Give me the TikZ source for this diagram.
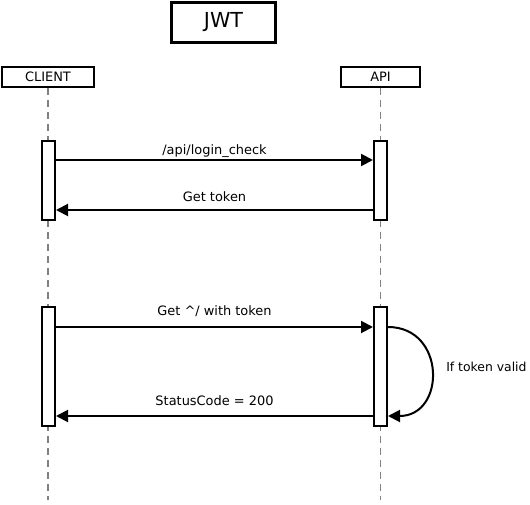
\documentclass[tikz,border=0pt]{standalone}
\usepackage{fontspec}
\setmainfont{DejaVu Sans}
\usetikzlibrary{positioning}
\usetikzlibrary{calc,arrows.meta}
\definecolor{seq-line}{HTML}{808080}

\begin{document}
\begin{tikzpicture}[
    x=0.75pt, y=-0.75pt, % pixel grid of the original drawing
    font=\fontsize{9.7}{11}\selectfont,
    >={Triangle[length=9pt, width=9pt]}
  ]

  % Styles for the sequence chart
  \tikzset{
    actor/.style={draw, line width=1.8pt, fill=white, inner sep=0pt, minimum height=15pt, text=black},
    activation/.style={draw, line width=1.5pt, fill=white, minimum width=9.75pt, inner sep=0pt},
    lifeline/.style={seq-line, line width=1.1pt, dash pattern=on 5pt off 4pt},
    msg/.style={->, line width=1.5pt}
  }

  \useasboundingbox (0,0) rectangle (530,505);

  % Title and actors
  \node (title) [actor, minimum width=78pt, minimum height=30pt, font=\fontsize{15.5}{17}\selectfont] at (223.5,22.5) {JWT};
  \node (client) [actor, minimum width=69pt] at (48,77) {CLIENT};
  \node (api)    [actor, minimum width=59pt] at (380.5,77) {API};

  % Lifelines
  \coordinate (clientEnd) at (48,500);
  \coordinate (apiEnd) at (380.5,500);
  \draw[lifeline] (client.south) -- (clientEnd);
  \draw[lifeline] (api.south) -- (apiEnd);

  % Activation bars
  \node (clientAct1) [activation, minimum height=59pt] at (48.5,180.5) {};
  \node (apiAct1)    [activation, minimum height=59pt] at (380.5,180.5) {};
  \node (clientAct2) [activation, minimum height=89pt] at (48.5,366.5) {};
  \node (apiAct2)    [activation, minimum height=89pt] at (380.5,366.5) {};

  % Message heights
  \coordinate (login) at (0,160);
  \coordinate (token) at (0,210);
  \coordinate (getReq) at (0,327);
  \coordinate (status) at (0,416);

  % Messages
  \draw[msg] (clientAct1.east |- login) -- node[above=-2pt] {/api/login\_check} (apiAct1.west |- login);
  \draw[msg] (apiAct1.west |- token) -- node[above=2pt] {Get token} (clientAct1.east |- token);
  \draw[msg] (clientAct2.east |- getReq) -- node[above=3.5pt] {Get \textasciicircum/ with token} (apiAct2.west |- getReq);
  \draw[msg] (apiAct2.west |- status) -- node[above=3.5pt] {StatusCode = 200} (clientAct2.east |- status);

  % Self check on the API
  \draw[msg] (apiAct2.east |- getReq) .. controls +(58,0) and +(58,0) .. (apiAct2.east |- status);
  \node (valid) [anchor=west, inner sep=0pt, font=\fontsize{9.3}{11}\selectfont] at (446,367) {If token valid};

\end{tikzpicture}
\end{document}
